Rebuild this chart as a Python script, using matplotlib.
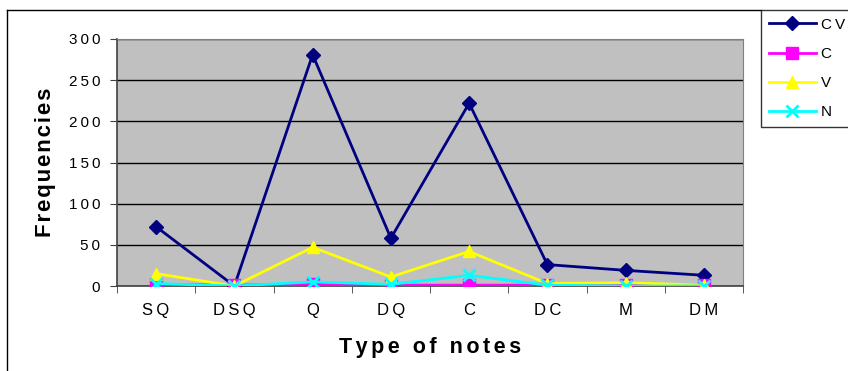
import matplotlib.pyplot as plt
from matplotlib.lines import Line2D
import numpy as np

plt.rcParams['font.family'] = ['Liberation Sans', 'DejaVu Sans']

categories = ['SQ', 'DSQ', 'Q', 'DQ', 'C', 'DC', 'M', 'DM']
cv = [72, 0, 281, 58, 222, 26, 19, 13]
c = [2, 1, 2, 1, 1, 1, 1, 1]
v = [15, 0, 47, 11, 42, 3, 4, 1]
n = [3, 0, 5, 2, 13, 1, 0, 0]
yticks = [0, 50, 100, 150, 200, 250, 300]

THIN = '\u2009'
HAIR = '\u200a'


def spaced(s, sep=THIN):
    return sep.join(s)


W, H = 848, 371
fig = plt.figure(figsize=(W / 100, H / 100), dpi=100)
ax = fig.add_axes([117 / W, 1 - 286 / H, (743 - 117) / W, (286 - 39) / H])
ax.set_facecolor('#C0C0C0')

x = np.arange(len(categories))
ax.plot(x, cv, color='#000080', lw=2, marker='D', ms=7, label=spaced('CV'), zorder=3)
ax.plot(x, c, color='#FF00FF', lw=2, marker='s', ms=8, label='C', zorder=4)
ax.plot(x, v, color='#FFFF00', lw=2, marker='^', ms=9, label='V', zorder=5)
ax.plot(x, n, color='#00FFFF', lw=2, marker='x', ms=9, mew=2, label='N', zorder=6)

ax.set_xlim(-0.5, len(categories) - 0.5)
ax.set_ylim(0, 300)
ax.set_yticks(yticks)
ax.set_yticklabels([spaced(str(t)) for t in yticks])
ax.set_xticks(x)
ax.set_xticklabels([spaced(s) for s in categories])
ax.set_xticks(np.arange(-0.5, len(categories)), minor=True)
ax.tick_params(axis='x', which='major', length=0, pad=12, labelsize=12)
ax.tick_params(axis='x', which='minor', length=5, direction='out', color='#404040')
ax.tick_params(axis='y', length=5, direction='out', labelsize=11, pad=7, color='#404040')
ax.grid(axis='y', color='black', lw=1)
ax.set_axisbelow(True)
for side in ['top', 'right']:
    ax.spines[side].set_color('#808080')
for side in ['left', 'bottom']:
    ax.spines[side].set_color('#404040')
    ax.spines[side].set_linewidth(1.2)

ax.set_ylabel(spaced('Frequencies', HAIR), fontsize=16, fontweight='bold', labelpad=9)
ax.set_xlabel(spaced('Type of notes', HAIR * 2), fontsize=15.5, fontweight='bold',
              labelpad=14)

# outer chart border
fig.add_artist(Line2D([7 / W, 7 / W], [0, 1 - 10 / H], color='black', lw=1,
                      transform=fig.transFigure))
fig.add_artist(Line2D([7 / W, 761 / W], [1 - 10 / H, 1 - 10 / H], color='black', lw=1,
                      transform=fig.transFigure))

leg = fig.legend(loc='upper left', bbox_to_anchor=(761 / W, 1 - 10 / H),
                 frameon=True, fancybox=False, edgecolor='black', fontsize=11,
                 handlelength=3.1, borderpad=0.5, labelspacing=1.0,
                 handletextpad=0.3, borderaxespad=0)
leg.get_frame().set_linewidth(1)

fig.savefig('out.png', dpi=100)
